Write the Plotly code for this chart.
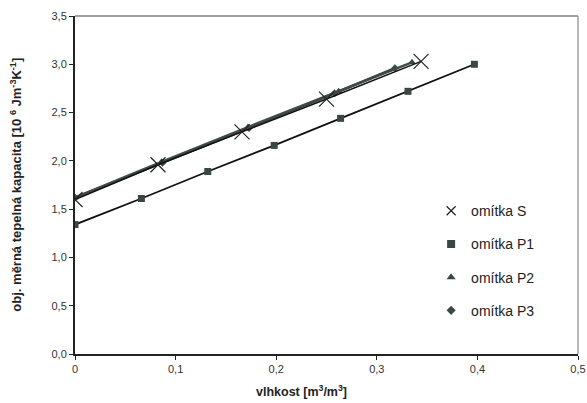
import plotly.graph_objects as go

# Volumetric heat capacity vs. moisture content for four plasters
s_x = [0.0, 0.0825, 0.166, 0.250, 0.344]
s_y = [1.60, 1.96, 2.30, 2.64, 3.03]

p1_x = [0.0, 0.066, 0.132, 0.198, 0.264, 0.331, 0.397]
p1_y = [1.34, 1.61, 1.89, 2.16, 2.44, 2.72, 3.00]

p2_x = [0.0, 0.086, 0.172, 0.262, 0.335]
p2_y = [1.62, 1.99, 2.35, 2.72, 3.02]

p3_x = [0.0, 0.087, 0.173, 0.258, 0.318]
p3_y = [1.62, 1.98, 2.34, 2.70, 2.96]

names = ["omítka S", "omítka P1", "omítka P2", "omítka P3"]

mark_col = "#3b4747"
line_col = "#111111"
font_family = "Arial, Liberation Sans, sans-serif"

series = [
    dict(x=p3_x, y=p3_y, name=names[3], rank=4,
         line=dict(color="#2f3838", width=2.5),
         marker=dict(symbol="diamond", size=6, color=mark_col)),
    dict(x=p2_x, y=p2_y, name=names[2], rank=3,
         line=dict(color="#3f4a4a", width=2.5),
         marker=dict(symbol="triangle-up", size=7, color=mark_col)),
    dict(x=p1_x, y=p1_y, name=names[1], rank=2,
         line=dict(color=line_col, width=1.8),
         marker=dict(symbol="square", size=7, color=mark_col)),
    dict(x=s_x, y=s_y, name=names[0], rank=1,
         line=dict(color=line_col, width=1.5),
         marker=dict(symbol="x-thin", size=15, color="#222222",
                     line=dict(color="#222222", width=1.2))),
]

legend_marker_size = {"diamond": 7, "triangle-up": 8, "square": 8, "x-thin": 9}

fig = go.Figure()
for i, s in enumerate(series):
    # data line with markers
    fig.add_trace(go.Scatter(x=s["x"], y=s["y"], name=s["name"], mode="lines+markers",
                             line=s["line"], marker=s["marker"], showlegend=False))
    # marker-only legend entry
    lm = dict(s["marker"])
    lm["size"] = legend_marker_size[lm["symbol"]]
    fig.add_trace(go.Scatter(x=[None], y=[None], name=s["name"], mode="markers",
                             marker=lm, legendgroup=str(i), legendrank=s["rank"],
                             showlegend=True))

axis_font = dict(family=font_family, size=11, color="#333333")

fig.update_layout(
    width=587, height=403,
    margin=dict(l=75, r=9, t=16, b=49),
    paper_bgcolor="white", plot_bgcolor="white",
    separators=", ",
    showlegend=True,
    legend=dict(
        x=0.708, y=0.47, xanchor="left", yanchor="top",
        font=dict(family=font_family, size=14, color="#222222"),
        tracegroupgap=12, itemwidth=30, bgcolor="rgba(0,0,0,0)",
    ),
    xaxis=dict(
        range=[0, 0.5], dtick=0.1, tick0=0, showgrid=False, zeroline=False,
        showline=True, linecolor="#222222", linewidth=2, automargin=False,
        ticks="outside", ticklen=4, tickcolor="#222222", tickfont=axis_font,
    ),
    yaxis=dict(
        range=[0, 3.5], dtick=0.5, tick0=0, tickformat=".1f", showgrid=False,
        zeroline=False, showline=True, linecolor="#222222", linewidth=2, automargin=False,
        ticks="outside", ticklen=4, tickcolor="#222222", tickfont=axis_font,
    ),
    shapes=[
        dict(type="line", xref="paper", yref="paper", x0=0, x1=1, y0=1, y1=1,
             line=dict(color="#444444", width=1.2)),
        dict(type="line", xref="paper", yref="paper", x0=1, x1=1, y0=0, y1=1,
             line=dict(color="#888888", width=1.2)),
    ],
    annotations=[
        dict(text="<b>vlhkost [m<sup>3</sup>/m<sup>3</sup>]</b>", xref="paper", yref="paper",
             x=0.45, y=-0.08, xanchor="center", yanchor="top", showarrow=False,
             font=dict(family=font_family, size=12.5, color="#222222")),
        dict(text="<b>obj. měrná tepelná kapacita [10 <sup>6</sup> Jm<sup>-3</sup>K<sup>-1</sup>]</b>",
             xref="paper", yref="paper", x=-0.118, y=0.5, xanchor="center", yanchor="middle",
             textangle=-90, showarrow=False,
             font=dict(family=font_family, size=13, color="#222222")),
    ],
)

fig.write_html("out.html")
